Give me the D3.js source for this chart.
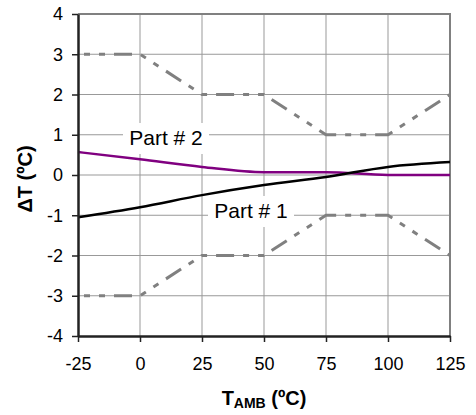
<!DOCTYPE html>
<html lang="en">
  <head>
    <meta charset="utf-8" />
    <title>Delta T vs Ambient Temperature</title>
    <script src="https://d3js.org/d3.v7.min.js" charset="utf-8"></script>
    <style>
      body { margin: 0; background: #fff; }
      svg { display: block; font-family: Arial, "Liberation Sans", Helvetica, sans-serif; }
      .tick text { font-size: 18px; fill: #000; }
      .grid line { stroke: #999; stroke-width: 1; }
    </style>
  </head>
  <body>
    <div id="chart"></div>
    <script>
      // data
      const temps = [-25, 0, 25, 50, 75, 100, 125];
      const part1 = [-1.05, -0.8, -0.5, -0.25, -0.05, 0.2, 0.32];
      const part2 = [0.57, 0.39, 0.2, 0.07, 0.07, 0.0, 0.0];
      const upperLimit = [3, 3, 2, 2, 1, 1, 2];
      const lowerLimit = [-3, -3, -2, -2, -1, -1, -2];
      const xTicks = [-25, 0, 25, 50, 75, 100, 125];
      const yTicks = [-4, -3, -2, -1, 0, 1, 2, 3, 4];

      const margin = { top: 14, right: 26, bottom: 79, left: 78 };
      const W = 476, H = 415;
      const width = W - margin.left - margin.right;
      const height = H - margin.top - margin.bottom;

      const svg = d3.select("#chart").append("svg")
        .attr("width", W)
        .attr("height", H);

      const g = svg.append("g").attr("transform", `translate(${margin.left},${margin.top})`);

      const x = d3.scaleLinear().domain([-25, 125]).range([0, width]);
      const y = d3.scaleLinear().domain([-4, 4]).range([height, 0]);

      // gridlines
      const grid = g.append("g").attr("class", "grid");
      grid.selectAll("line.v")
        .data(xTicks.slice(1, -1))
        .join("line")
        .attr("class", "v")
        .attr("x1", d => x(d)).attr("x2", d => x(d))
        .attr("y1", 0).attr("y2", height);
      grid.selectAll("line.h")
        .data(yTicks.slice(1, -1))
        .join("line")
        .attr("class", "h")
        .attr("x1", 0).attr("x2", width)
        .attr("y1", d => y(d)).attr("y2", d => y(d));

      // top + right border
      g.append("path")
        .attr("d", `M0,${y(4)}H${x(125)}V${y(-4)}`)
        .attr("fill", "none")
        .attr("stroke", "#808080")
        .attr("stroke-width", 2);

      // white boxes behind the labels
      const labels = [
        { text: "Part # 2", cx: 166, baseline: 145 },
        { text: "Part # 1", cx: 251, baseline: 218 }
      ];
      g.selectAll("rect.lbl")
        .data(labels)
        .join("rect")
        .attr("class", "lbl")
        .attr("x", d => d.cx - 43 - margin.left)
        .attr("y", d => d.baseline - 22 - margin.top)
        .attr("width", 86)
        .attr("height", 31)
        .attr("fill", "#fff");

      // limit lines (long dash dot dot)
      const straight = d3.line()
        .x((d, i) => x(temps[i]))
        .y(d => y(d));
      [upperLimit, lowerLimit].forEach(lim => {
        g.append("path")
          .datum(lim)
          .attr("d", straight)
          .attr("fill", "none")
          .attr("stroke", "#808080")
          .attr("stroke-width", 3)
          .attr("stroke-dasharray", "6,9,6,9,18,9")
          .attr("stroke-dashoffset", 51);
      });

      // measured curves
      const smooth = d3.line()
        .x((d, i) => x(temps[i]))
        .y(d => y(d))
        .curve(d3.curveMonotoneX);
      g.append("path")
        .datum(part2)
        .attr("d", smooth)
        .attr("fill", "none")
        .attr("stroke", "#800080")
        .attr("stroke-width", 2.5);
      g.append("path")
        .datum(part1)
        .attr("d", smooth)
        .attr("fill", "none")
        .attr("stroke", "#000")
        .attr("stroke-width", 2.5);

      svg.selectAll("text.lbl")
        .data(labels)
        .join("text")
        .attr("class", "lbl")
        .attr("x", d => d.cx)
        .attr("y", d => d.baseline)
        .attr("text-anchor", "middle")
        .attr("font-size", 21)
        .text(d => d.text);

      // axes
      const fmt = d => String(d);
      const xAxis = d3.axisBottom(x).tickValues(xTicks).tickFormat(fmt).tickSize(6).tickPadding(15).tickSizeOuter(0);
      const yAxis = d3.axisLeft(y).tickValues(yTicks).tickFormat(fmt).tickSize(6).tickPadding(9).tickSizeOuter(0);
      const gx = g.append("g").attr("transform", `translate(0,${height})`).call(xAxis);
      const gy = g.append("g").call(yAxis);
      [gx, gy].forEach(a => {
        a.select(".domain").attr("stroke", "#222").attr("stroke-width", 2.5);
        a.selectAll(".tick line").attr("stroke", "#222").attr("stroke-width", 1.5);
      });

      // axis titles
      svg.append("text")
        .attr("transform", "translate(32,179) rotate(-90)")
        .attr("text-anchor", "middle")
        .attr("font-size", 20)
        .attr("font-weight", "bold")
        .text("ΔT (ºC)");

      const xt = svg.append("text")
        .attr("x", margin.left + width / 2)
        .attr("y", 405)
        .attr("text-anchor", "middle")
        .attr("font-size", 20)
        .attr("font-weight", "bold");
      xt.append("tspan").text("T");
      xt.append("tspan").attr("font-size", 14).attr("dy", 3).text("AMB");
      xt.append("tspan").attr("dy", -3).text(" (ºC)");
    </script>
  </body>
</html>
